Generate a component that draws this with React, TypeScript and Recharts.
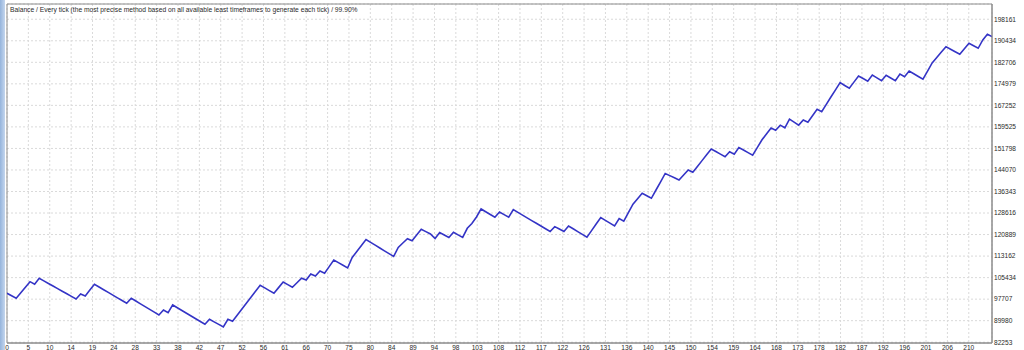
import React from "react";
import { LineChart, Line, XAxis, YAxis, CartesianGrid, ReferenceArea } from "recharts";

const W = 1024;
const H = 350;

const titleText =
  "Balance / Every tick (the most precise method based on all available least timeframes to generate each tick) / 99.90%";

const xTickLabels = [
  0, 5, 10, 14, 19, 24, 28, 33, 38, 42, 47, 52, 56, 61, 66, 70, 75, 80, 84, 89, 94, 98, 103, 108, 112,
  117, 122, 126, 131, 136, 140, 145, 150, 154, 159, 164, 168, 173, 178, 182, 187, 192, 196, 201, 206, 210,
];

const yTickLabels = [
  82253, 89980, 97707, 105434, 113162, 120889, 128616, 136343, 144070, 151798, 159525, 167252, 174979,
  182706, 190434, 198161,
];

const balance = [
  99810, 98920, 98020, 100000, 101990, 103980, 103040, 105200, 104270, 103340,
  102410, 101480, 100560, 99630, 98700, 97770, 99560, 98850, 100950, 103040,
  102070, 101100, 100120, 99150, 98180, 97200, 96230, 98020, 97020, 96020,
  95030, 94030, 93030, 92030, 93820, 92850, 95620, 94630, 93640, 92650,
  91660, 90670, 89680, 88690, 90480, 89560, 88640, 87720, 90480, 89770,
  91920, 94080, 96230, 98380, 100540, 102690, 101730, 100770, 99810, 101840,
  103870, 102920, 101970, 103590, 105200, 104590, 106740, 106020, 107820, 106990,
  109380, 111770, 110810, 109850, 108890, 112660, 114810, 116970, 119120, 118100,
  117090, 116070, 115050, 114040, 113020, 116250, 117870, 119410, 118690, 120740,
  122780, 121940, 121100, 119480, 121640, 120740, 119840, 121710, 120780, 119840,
  123140, 124870, 127200, 130070, 129080, 128080, 127090, 128990, 128040, 127090,
  129820, 128840, 127860, 126880, 125900, 124930, 123950, 122970, 121990, 123720,
  122860, 121990, 123970, 122970, 121960, 120960, 119950, 122310, 124660, 127020,
  126000, 124990, 123970, 126660, 125690, 128740, 131790, 133750, 135700, 134810,
  133910, 136880, 139830, 142810, 142030, 141250, 140480, 142270, 144070, 143240,
  145330, 147420, 149510, 151600, 150680, 149760, 148840, 150630, 149740, 152140,
  151220, 150300, 149380, 152100, 154830, 156990, 159140, 158320, 160150, 159210,
  162300, 161220, 160150, 162010, 161220, 163540, 165850, 164990, 167630, 170270,
  172830, 175400, 174390, 173390, 175600, 177800, 176870, 175940, 178160, 177140,
  176120, 178050, 177090, 176120, 178520, 177550, 179600, 178610, 177610, 176620,
  179540, 182470, 184420, 186370, 188320, 187410, 186500, 185590, 187570, 189540,
  188640, 187740, 190720, 192770, 191910,
];

const data = balance.map((b, i) => ({ trade: i, balance: b }));

const X_MAX = balance.length - 1;
const X_GRID_STEP = 4.6435; // trades per vertical grid cell
const xTicks = xTickLabels.map((_, i) => i * X_GRID_STEP);

const Y_MIN = 81966;
const Y_MAX = 203633;

const FONT = "'Liberation Sans', Arial, sans-serif";
const TEXT_COLOR = "#2a2a2a";

const XTick = (props: any) => {
  const { x, y, index } = props;
  return (
    <text x={x} y={y + 7} textAnchor="middle" fontFamily={FONT} fontSize={6.6} fill={TEXT_COLOR}>
      {String(xTickLabels[index])}
    </text>
  );
};

const YTick = (props: any) => {
  const { x, y, index } = props;
  return (
    <text x={x + 2} y={y + 2.3} textAnchor="start" fontFamily={FONT} fontSize={6.6} fill={TEXT_COLOR}>
      {String(yTickLabels[index])}
    </text>
  );
};

export default function App() {
  return (
    <div
      style={{
        position: "fixed",
        left: 0,
        top: 0,
        width: W,
        height: H,
        background: "#ffffff",
        overflow: "hidden",
      }}
    >
      <div
        style={{
          position: "absolute",
          left: 0,
          top: 0,
          width: 5,
          height: H,
          background: "linear-gradient(to right, #95b4dc, #c4d6ee)",
        }}
      />
      <div style={{ position: "absolute", left: 0, top: 0 }}>
        <LineChart width={W} height={H} data={data} margin={{ top: 4, right: 0, bottom: 0, left: 7 }}>
          <CartesianGrid stroke="#dadada" strokeDasharray="2 2" />
          <XAxis
            dataKey="trade"
            type="number"
            domain={[0, X_MAX]}
            ticks={xTicks}
            interval={0}
            height={7}
            tickSize={0}
            tickMargin={0}
            tickLine={false}
            axisLine={{ stroke: "#8c8c8c" }}
            tick={<XTick />}
            allowDataOverflow
          />
          <YAxis
            orientation="right"
            type="number"
            domain={[Y_MIN, Y_MAX]}
            ticks={yTickLabels}
            interval={0}
            width={32}
            tickSize={0}
            tickMargin={0}
            tickLine={false}
            axisLine={{ stroke: "#8c8c8c" }}
            tick={<YTick />}
            allowDataOverflow
          />
          <ReferenceArea
            x1={0}
            x2={X_MAX}
            y1={Y_MIN}
            y2={Y_MAX}
            fill="none"
            stroke="#8c8c8c"
            strokeWidth={1}
            ifOverflow="visible"
          />
          <Line
            type="linear"
            dataKey="balance"
            stroke="#3434c6"
            strokeWidth={1.6}
            dot={false}
            activeDot={false}
            isAnimationActive={false}
          />
        </LineChart>
      </div>
      <svg
        width={W}
        height={H}
        style={{ position: "absolute", left: 0, top: 0, pointerEvents: "none" }}
      >
        <text x={10} y={12} fontFamily={FONT} fontSize={6.7} fill={TEXT_COLOR}>
          {titleText}
        </text>
      </svg>
    </div>
  );
}
